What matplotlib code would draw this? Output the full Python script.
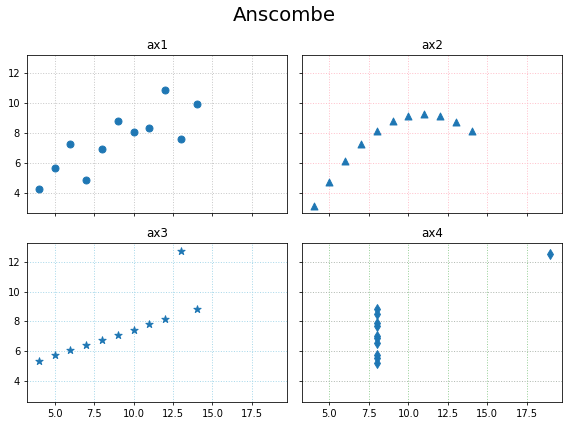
import matplotlib
matplotlib.use("Agg")
import matplotlib.pyplot as plt

x123 = [10, 8, 13, 9, 11, 14, 6, 4, 12, 7, 5]
y1 = [8.04, 6.95, 7.58, 8.81, 8.33, 9.96, 7.24, 4.26, 10.84, 4.82, 5.68]
y2 = [9.14, 8.14, 8.74, 8.77, 9.26, 8.10, 6.13, 3.10, 9.13, 7.26, 4.74]
y3 = [7.46, 6.77, 12.74, 7.11, 7.81, 8.84, 6.08, 5.39, 8.15, 6.42, 5.73]
x4 = [8, 8, 8, 8, 8, 8, 8, 19, 8, 8, 8]
y4 = [6.58, 5.76, 7.71, 8.84, 8.47, 7.04, 5.25, 12.50, 5.56, 7.91, 6.89]

titles = ["ax1", "ax2", "ax3", "ax4"]
markers = ["o", "^", "*", "d"]
grid_colors = [("#c8c8c8", "#c8c8c8"), ("#ffc0cb", "#ffc0cb"),
               ("#a8d8ea", "#a8d8ea"), ("#98d098", "#b0b8b0")]

fig, axes = plt.subplots(2, 2, sharex=True, sharey=True, figsize=(8, 6), dpi=71)
fig.subplots_adjust(left=0.0475, right=0.990, top=0.8716, bottom=0.0563,
                    wspace=0.055, hspace=0.189)
data = [(x123, y1), (x123, y2), (x123, y3), (x4, y4)]
sizes = {"o": 50, "^": 50, "*": 60, "d": 50}
for ax, (x, y), t, m, (gx, gy) in zip(axes.flat, data, titles, markers, grid_colors):
    ax.scatter(x, y, marker=m, color="#1f77b4", s=sizes[m], zorder=3)
    ax.set_title(t, fontsize=12)
    ax.grid(True, axis="x", linestyle=":", color=gx, linewidth=1)
    ax.grid(True, axis="y", linestyle=":", color=gy, linewidth=1)
    ax.set_axisbelow(True)
fig.suptitle("Anscombe", fontsize=20, y=0.985)
fig.savefig("out.png", dpi=71)
